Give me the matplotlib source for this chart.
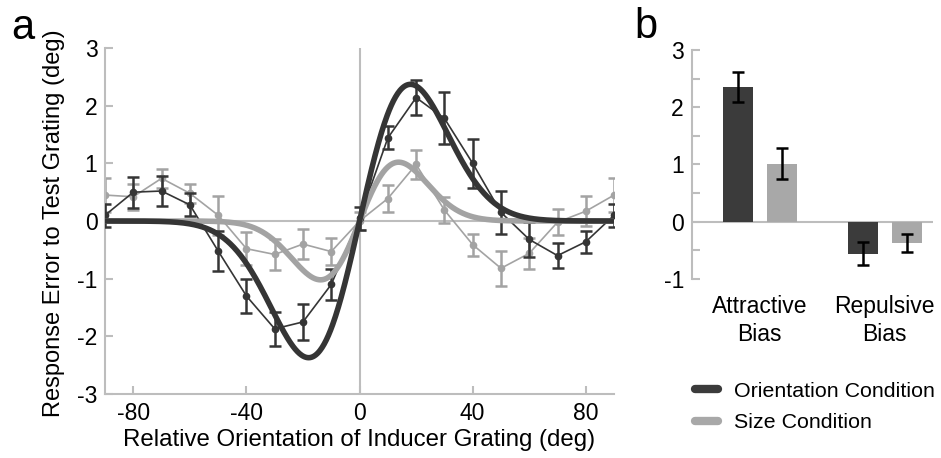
import numpy as np
import matplotlib
matplotlib.use("Agg")
import matplotlib.pyplot as plt
from matplotlib.lines import Line2D

plt.rcParams['font.family'] = ['Liberation Sans', 'DejaVu Sans']

DARK = "#353535"
LIGHT = "#a3a3a3"
SPINE = "#bdbdbd"

# panel a: data points
orient = [-90, -80, -70, -60, -50, -40, -30, -20, -10, 0, 10, 20, 30, 40, 50, 60, 70, 80, 90]
ori_err_mean = [0.1, 0.5, 0.52, 0.28, -0.52, -1.3, -1.87, -1.75, -1.1, 0.05,
                1.44, 2.14, 1.78, 1.0, 0.15, -0.32, -0.6, -0.36, 0.1]
ori_err_sem = [0.2, 0.27, 0.26, 0.2, 0.34, 0.3, 0.3, 0.31, 0.27, 0.2,
               0.2, 0.31, 0.45, 0.42, 0.37, 0.3, 0.21, 0.19, 0.2]
size_err_mean = [0.45, 0.42, 0.74, 0.48, 0.1, -0.48, -0.58, -0.4, -0.53, 0.0,
                 0.39, 0.98, 0.19, -0.41, -0.82, -0.56, -0.02, 0.17, 0.45]
size_err_sem = [0.3, 0.23, 0.17, 0.17, 0.34, 0.29, 0.27, 0.26, 0.23, 0.15,
                0.24, 0.25, 0.23, 0.19, 0.3, 0.27, 0.22, 0.26, 0.3]

# DoG fits: peak height and peak location (deg)
ori_fit_amp, ori_fit_peak = 2.37, 18.0
size_fit_amp, size_fit_peak = 1.02, 13.8

# panel b: bias bars
bias_groups = ["Attractive\nBias", "Repulsive\nBias"]
ori_bias = [2.35, -0.56]
ori_bias_sem = [0.26, 0.2]
size_bias = [1.01, -0.38]
size_bias_sem = [0.27, 0.16]


def dog(x, amp, peak):
    # derivative of gaussian whose extremum is amp at x=peak
    return amp * (x / peak) * np.exp(0.5 - 0.5 * (x / peak) ** 2)


def style_axis(ax):
    for s in ["top", "right"]:
        ax.spines[s].set_visible(False)
    for s in ["left", "bottom"]:
        ax.spines[s].set_color(SPINE)
        ax.spines[s].set_linewidth(1.5)
    ax.tick_params(direction="in", color=SPINE, width=1.5, length=6,
                   labelsize=16.5, pad=5.5)
    ax.tick_params(which="minor", direction="in", color=SPINE, width=1.5, length=6)


fig = plt.figure(figsize=(9.41, 4.58), dpi=100)

# ---- panel a
ax = fig.add_axes([0.1116, 0.1397, 0.541, 0.7555])
ax.axhline(0, color=SPINE, lw=1.5, zorder=0)
ax.axvline(0, color=SPINE, lw=1.5, zorder=0)

ax.errorbar(orient, size_err_mean, yerr=size_err_sem, color=LIGHT, lw=1.2,
            marker="o", ms=4.5, capsize=4.5, capthick=1.8, elinewidth=1.8, zorder=2)
ax.errorbar(orient, ori_err_mean, yerr=ori_err_sem, color=DARK, lw=1.2,
            marker="o", ms=4.5, capsize=4.5, capthick=1.8, elinewidth=1.8, zorder=3)

xs = np.linspace(-90, 90, 721)
ax.plot(xs, dog(xs, size_fit_amp, size_fit_peak), color=LIGHT, lw=4, zorder=4,
        solid_capstyle="round")
ax.plot(xs, dog(xs, ori_fit_amp, ori_fit_peak), color=DARK, lw=4, zorder=5,
        solid_capstyle="round")

ax.set_xlim(-90, 90)
ax.set_ylim(-3, 3)
ax.set_xticks([-80, -40, 0, 40, 80])
ax.set_xticklabels(["-80", "-40", "0", "40", "80"])
ax.set_yticks([-3, -2, -1, 0, 1, 2, 3])
ax.set_yticklabels(["-3", "-2", "-1", "0", "1", "2", "3"])
style_axis(ax)
ax.set_xlabel("Relative Orientation of Inducer Grating (deg)", fontsize=17.3, labelpad=3)
ax.set_ylabel("Response Error to Test Grating (deg)", fontsize=17.0)
ax.yaxis.set_label_coords(-0.079, 0.494)

# ---- panel b
bx = fig.add_axes([0.735, 0.3915, 0.2564, 0.4993])
pos = np.arange(1, len(bias_groups) + 1)
w = 0.24
bx.bar(pos - 0.175, ori_bias, w, color="#3b3b3b", zorder=2)
bx.bar(pos + 0.175, size_bias, w, color="#a8a8a8", zorder=2)
bx.errorbar(pos - 0.175, ori_bias, yerr=ori_bias_sem, fmt="none", ecolor="black",
            elinewidth=1.8, capsize=4.5, capthick=1.8, zorder=3)
bx.errorbar(pos + 0.175, size_bias, yerr=size_bias_sem, fmt="none", ecolor="black",
            elinewidth=1.8, capsize=4.5, capthick=1.8, zorder=3)
bx.axhline(0, color=SPINE, lw=1.5, zorder=1)
bx.set_xlim(0.456, 2.386)
bx.set_ylim(-1, 3)
bx.set_yticks([-1, 0, 1, 2, 3])
bx.set_yticklabels(["-1", "0", "1", "2", "3"])
bx.set_yticks([-0.5, 0.5, 1.5, 2.5], minor=True)
bx.set_xticks(pos)
bx.set_xticklabels(bias_groups, fontsize=17.3, linespacing=1.25)
style_axis(bx)
bx.spines["bottom"].set_visible(False)
bx.tick_params(axis="x", length=0, pad=12)

handles = [Line2D([], [], color="#3b3b3b", lw=6, solid_capstyle="round"),
           Line2D([], [], color="#a8a8a8", lw=6, solid_capstyle="round")]
fig.legend(handles, ["Orientation Condition", "Size Condition"],
           loc="upper left", bbox_to_anchor=(0.739, 0.166), frameon=False,
           fontsize=15.4, handlelength=1.05, handletextpad=0.75, labelspacing=0.58,
           borderaxespad=0, borderpad=0)

fig.text(0.012, 0.982, "a", fontsize=30, va="top", ha="left")
fig.text(0.674, 0.985, "b", fontsize=30, va="top", ha="left")

fig.savefig("out.png", dpi=100)
